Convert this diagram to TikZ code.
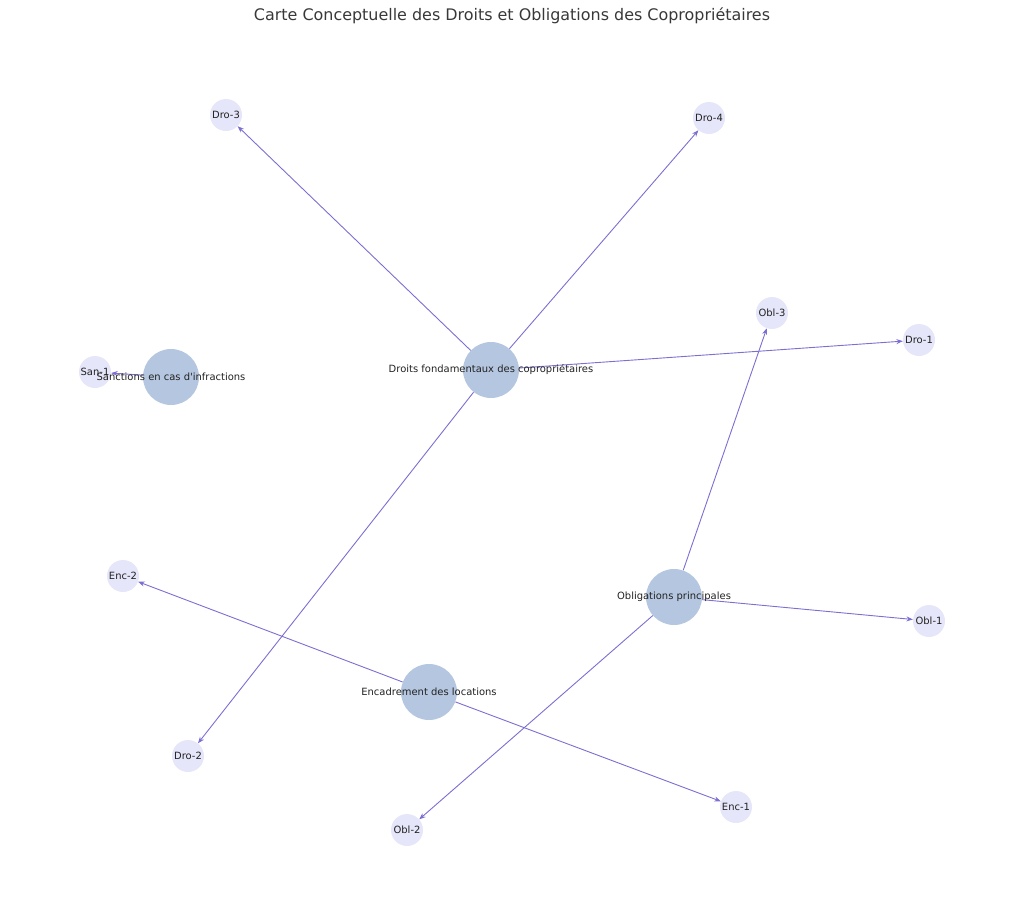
\documentclass[tikz,border=0pt]{standalone}
\usepackage{fontspec}
\setmainfont{DejaVu Sans}
\usetikzlibrary{arrows.meta}
\definecolor{hubc}{HTML}{B5C7E0}
\definecolor{leafc}{HTML}{E6E6FA}
\definecolor{edgec}{HTML}{7B6FD2}
\definecolor{txtc}{HTML}{222222}
\begin{document}
\begin{tikzpicture}[x=1bp,y=-1bp,
  hub/.style={circle,fill=hubc,draw=none,minimum size=56bp,inner sep=0pt},
  leaf/.style={circle,fill=leafc,draw=none,minimum size=32bp,inner sep=0pt},
  lbl/.style={text=txtc,font=\fontsize{10}{12}\selectfont,inner sep=0pt},
  edge/.style={draw=edgec,line width=0.9bp,-{Stealth[length=6.5bp,width=5bp]}}]
\useasboundingbox (0,0) rectangle (1024,913);
\node[text=black!78,font=\fontsize{16}{19}\selectfont] (title) at (512,15.5) {Carte Conceptuelle des Droits et Obligations des Copropriétaires};
% nodes
\node[hub] (dro) at (491,370) {};
\node[hub] (san) at (171,377) {};
\node[hub] (obl) at (674,597) {};
\node[hub] (enc) at (429,692) {};
\node[leaf] (san1) at (95,372) {};
\node[leaf] (dro3) at (226,115) {};
\node[leaf] (dro4) at (709,118) {};
\node[leaf] (obl3) at (772,313) {};
\node[leaf] (dro1) at (919,340) {};
\node[leaf] (enc2) at (123,576) {};
\node[leaf] (obl1) at (929,621) {};
\node[leaf] (dro2) at (188,756) {};
\node[leaf] (enc1) at (736,807) {};
\node[leaf] (obl2) at (407,830) {};
% edges
\draw[edge] (dro) -- (dro3);
\draw[edge] (dro) -- (dro4);
\draw[edge] (dro) -- (dro1);
\draw[edge] (dro) -- (dro2);
\draw[edge] (san) -- (san1);
\draw[edge] (obl) -- (obl3);
\draw[edge] (obl) -- (obl1);
\draw[edge] (obl) -- (obl2);
\draw[edge] (enc) -- (enc2);
\draw[edge] (enc) -- (enc1);
% labels
\node[lbl] (ldro) at (dro) {Droits fondamentaux des copropriétaires};
\node[lbl] (lsan) at (san) {Sanctions en cas d\textquotesingle infractions};
\node[lbl] (lobl) at (obl) {Obligations principales};
\node[lbl] (lenc) at (enc) {Encadrement des locations};
\node[lbl] (lsan1) at (san1) {San-1};
\node[lbl] (ldro3) at (dro3) {Dro-3};
\node[lbl] (ldro4) at (dro4) {Dro-4};
\node[lbl] (lobl3) at (obl3) {Obl-3};
\node[lbl] (ldro1) at (dro1) {Dro-1};
\node[lbl] (lenc2) at (enc2) {Enc-2};
\node[lbl] (lobl1) at (obl1) {Obl-1};
\node[lbl] (ldro2) at (dro2) {Dro-2};
\node[lbl] (lenc1) at (enc1) {Enc-1};
\node[lbl] (lobl2) at (obl2) {Obl-2};
\end{tikzpicture}
\end{document}
